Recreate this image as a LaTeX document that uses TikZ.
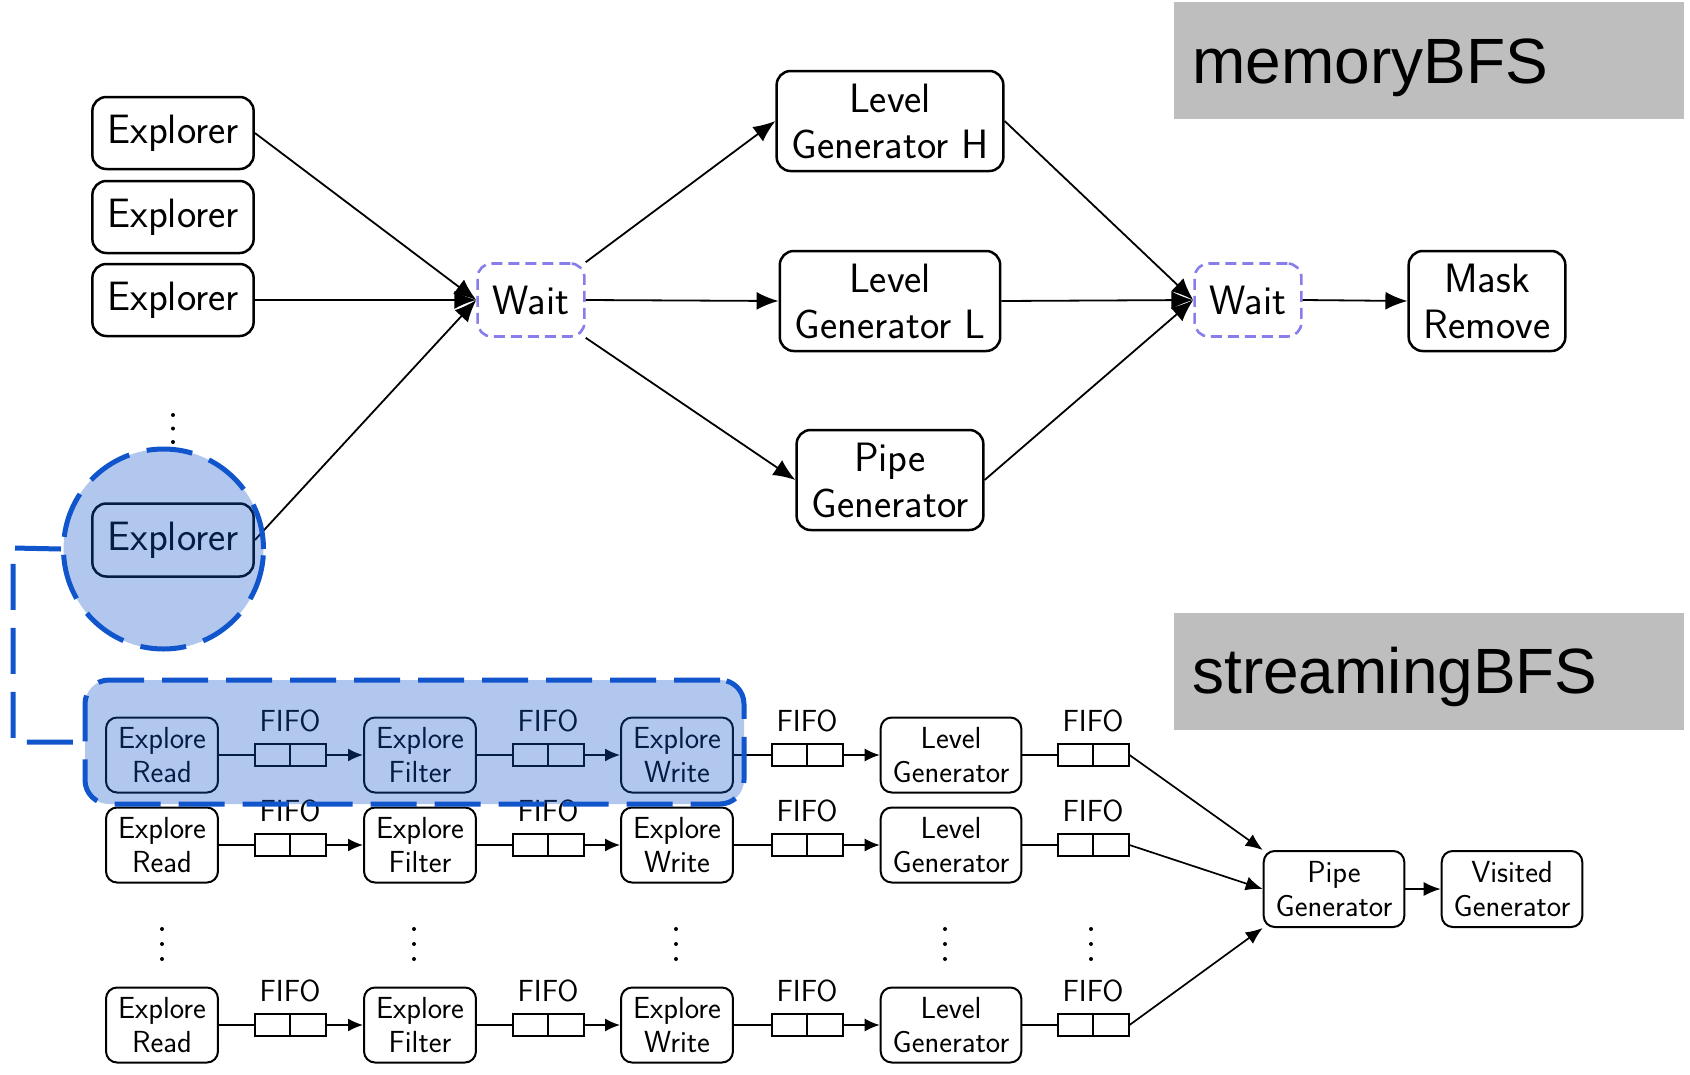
\documentclass[tikz,border=0pt]{standalone}
\usepackage{fontspec}
\newfontfamily\arialfont{Liberation Sans}
\usetikzlibrary{arrows.meta,calc}
\definecolor{hlblue}{RGB}{17,85,204}
\definecolor{waitcol}{RGB}{135,125,235}
\definecolor{titlegray}{RGB}{190,190,190}
\tikzset{
  bigbox/.style={draw, rounded corners=14pt, line width=2.5pt, align=center,
    font=\sffamily\fontsize{41}{46}\selectfont, inner xsep=15pt, inner ysep=0pt},
  waitbox/.style={bigbox, draw=waitcol, line width=2.6pt, dash pattern=on 11pt off 6pt, minimum height=73pt},
  smallbox/.style={draw, rounded corners=11pt, line width=2pt, align=center,
    font=\sffamily\fontsize{30.5}{34.5}\selectfont, inner xsep=12pt, inner ysep=0pt,
    minimum height=75pt},
  fifo/.style={draw, line width=2pt, minimum width=71pt, minimum height=22pt, inner sep=0pt,
    label={[font=\sffamily\fontsize{30.5}{34}\selectfont, label distance=7pt]above:FIFO}},
  conn/.style={line width=1.8pt},
  bigarr/.style={conn, -{Latex[length=22pt,width=18pt]}},
  smallarr/.style={line width=1.7pt, -{Latex[length=15pt,width=13pt]}},
  midarr/.style={line width=1.7pt, -{Latex[length=17pt,width=14pt]}},
  dotmark/.style={circle, fill, inner sep=0pt, minimum size=4pt},
  hilite/.style={draw=hlblue, fill=hlblue, fill opacity=0.33, draw opacity=1,
    line width=5pt, dash pattern=on 46pt off 18pt},
  titlebox/.style={fill=titlegray, inner sep=0pt},
  titletext/.style={font=\arialfont\fontsize{64}{70}\selectfont, inner sep=0pt}
}
\begin{document}
\begin{tikzpicture}[x=1pt,y=-1pt]
\useasboundingbox (0,0) rectangle (1690,1074);

% titles
\node[titlebox, minimum width=510pt, minimum height=117pt] (memb) at (1429,60.5) {};
\node[titletext, anchor=base west] (memt) at (1192,83) {memoryBFS};
\node[titlebox, minimum width=510pt, minimum height=117pt] (strb) at (1429,671.5) {};
\node[titletext, anchor=base west] (strt) at (1192,693) {streamingBFS};

% ---------- memoryBFS ----------
\node[bigbox, minimum height=72pt] (e1) at (173,133) {Explorer};
\node[bigbox, minimum height=72pt] (e2) at (173,217) {Explorer};
\node[bigbox, minimum height=72pt] (e3) at (173,300) {Explorer};
\node[dotmark] (d1) at (173,415) {};
\node[dotmark] (d2) at (173,428.5) {};
\node[dotmark] (d3) at (173,442) {};
\node[bigbox, minimum height=73pt] (e4) at (173,540) {Explorer};

\node[waitbox] (w1) at (531,300) {Wait};
\node[bigbox, minimum height=100pt] (lgh) at (890,121) {Level\\Generator H};
\node[bigbox, minimum height=100pt] (lgl) at (890,301) {Level\\Generator L};
\node[bigbox, minimum height=100pt] (pg) at (890,480) {Pipe\\Generator};
\node[waitbox] (w2) at (1248,300) {Wait};
\node[bigbox, minimum height=100pt] (mr) at (1487,301) {Mask\\Remove};

\draw[bigarr] (e1.east) -- (w1.west);
\draw[bigarr] (e3.east) -- (w1.west);
\draw[bigarr] (e4.east) -- (w1.west);
\draw[bigarr] (w1.north east) -- (lgh.west);
\draw[bigarr] (w1.east) -- (lgl.west);
\draw[bigarr] (w1.south east) -- (pg.west);
\draw[bigarr] (lgh.east) -- (w2.west);
\draw[bigarr] (lgl.east) -- (w2.west);
\draw[bigarr] (pg.east) -- (w2.west);
\draw[bigarr] (w2.east) -- (mr.west);

% ---------- streamingBFS ----------
\foreach \r/\y in {a/755,b/845,c/1025}{
  \node[smallbox] (rd\r) at (162,\y) {Explore\\Read};
  \node[fifo] (fa\r) at (290,\y) {};
  \node[smallbox] (fl\r) at (420,\y) {Explore\\Filter};
  \node[fifo] (fb\r) at (548,\y) {};
  \node[smallbox] (wr\r) at (677,\y) {Explore\\Write};
  \node[fifo] (fc\r) at (807,\y) {};
  \node[smallbox] (lg\r) at (951,\y) {Level\\Generator};
  \node[fifo] (fd\r) at (1093,\y) {};
  \foreach \f in {fa,fb,fc,fd}{\draw[line width=2pt] (\f\r.north) -- (\f\r.south);}
  \draw[conn] (rd\r.east) -- (fa\r.west);
  \draw[smallarr] (fa\r.east) -- (fl\r.west);
  \draw[conn] (fl\r.east) -- (fb\r.west);
  \draw[smallarr] (fb\r.east) -- (wr\r.west);
  \draw[conn] (wr\r.east) -- (fc\r.west);
  \draw[smallarr] (fc\r.east) -- (lg\r.west);
  \draw[conn] (lg\r.east) -- (fd\r.west);
}
\foreach \x [count=\i] in {162,414,676,945,1091}{
  \node[dotmark] (sa\i) at (\x,929) {};
  \node[dotmark] (sb\i) at (\x,944) {};
  \node[dotmark] (sc\i) at (\x,959) {};
}
\node[smallbox, minimum height=76pt] (spg) at (1334,889) {Pipe\\Generator};
\node[smallbox, minimum height=76pt] (svg) at (1512,889) {Visited\\Generator};
\draw[midarr] (fda.east) -- (spg.north west);
\draw[midarr] (fdb.east) -- (spg.west);
\draw[midarr] (fdc.east) -- (spg.south west);
\draw[midarr] (spg.east) -- (svg.west);

% ---------- highlight ----------
\node[hilite, circle, minimum size=200pt, inner sep=0pt] (hc) at (163.5,549) {};
\node[hilite, rounded corners=24pt, minimum width=659pt, minimum height=124pt, inner sep=0pt] (hr) at (414.5,742) {};
\coordinate (bk1) at (13,548);
\coordinate (bk2) at (13,742);
\draw[draw=hlblue, line width=5pt, dash pattern=on 46pt off 18pt] (hc.west) -- (bk1) -- (bk2) -- (hr.west);
\end{tikzpicture}
\end{document}
